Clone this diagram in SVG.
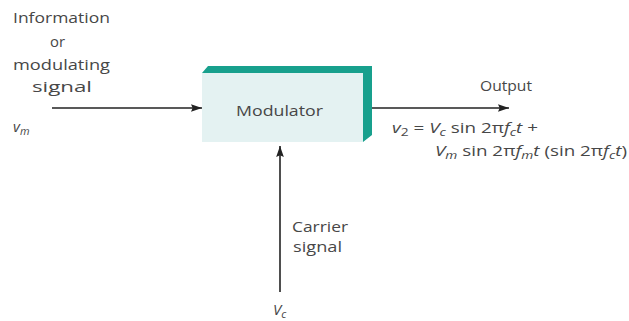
<svg xmlns="http://www.w3.org/2000/svg" width="629" height="321" viewBox="0 0 629 321">
<defs>
<marker id="ah" viewBox="0 0 10 10" refX="10" refY="5" markerWidth="11" markerHeight="11" markerUnits="userSpaceOnUse" orient="auto">
<path d="M0,1.5 L10,5 L0,8.5 L1.5,5 Z" fill="#222"/>
</marker>
<style>
text{font-family:"Open Sans","Noto Sans",sans-serif;font-size:15px;fill:#474747}
.i{font-style:italic}
.s{font-size:11px}
.c{stroke:#222;stroke-width:1.6;fill:none}
</style>
</defs>
<rect width="629" height="321" fill="#fff"/>
<g id="connectors">
<line class="c" x1="52" y1="108" x2="202" y2="108" marker-end="url(#ah)"/>
<line class="c" x1="363" y1="108" x2="509" y2="108" marker-end="url(#ah)"/>
<line class="c" x1="280" y1="292" x2="280" y2="146" marker-end="url(#ah)"/>
</g>
<g id="modulator">
<polygon points="202,73 208,66 372,66 372,135 363,142 363,73" fill="#18a08d"/>
<rect x="202" y="73" width="161" height="69" fill="#e4f2f2"/>
<text x="236" y="116" textLength="87" lengthAdjust="spacingAndGlyphs">Modulator</text>
</g>
<g id="input-label">
<text x="13" y="23" textLength="97" lengthAdjust="spacingAndGlyphs">Information</text>
<text x="50" y="47" textLength="15" lengthAdjust="spacingAndGlyphs">or</text>
<text x="13" y="70" textLength="97" lengthAdjust="spacingAndGlyphs">modulating</text>
<text x="32" y="92" textLength="60" lengthAdjust="spacingAndGlyphs">signal</text>
<text x="13" y="132" class="i">v<tspan class="s" dy="3">m</tspan></text>
</g>
<g id="output-label">
<text x="480" y="91" textLength="52" lengthAdjust="spacingAndGlyphs">Output</text>
<text x="392" y="133" textLength="146" lengthAdjust="spacingAndGlyphs"><tspan class="i">v</tspan><tspan class="s" dy="3">2</tspan><tspan dy="-3"> = </tspan><tspan class="i">V</tspan><tspan class="s i" dy="3">c</tspan><tspan dy="-3"> sin 2π</tspan><tspan class="i">f</tspan><tspan class="s i" dy="3">c</tspan><tspan class="i" dy="-3">t</tspan> +</text>
<text x="435" y="156" textLength="192" lengthAdjust="spacingAndGlyphs"><tspan class="i">V</tspan><tspan class="s i" dy="3">m</tspan><tspan dy="-3"> sin 2π</tspan><tspan class="i">f</tspan><tspan class="s i" dy="3">m</tspan><tspan class="i" dy="-3">t</tspan> (sin 2π<tspan class="i">f</tspan><tspan class="s i" dy="3">c</tspan><tspan class="i" dy="-3">t</tspan>)</text>
</g>
<g id="carrier-label">
<text x="292" y="232" textLength="56" lengthAdjust="spacingAndGlyphs">Carrier</text>
<text x="293" y="252" textLength="49" lengthAdjust="spacingAndGlyphs">signal</text>
<text x="273" y="315" class="i">V<tspan class="s" dy="3">c</tspan></text>
</g>
</svg>
